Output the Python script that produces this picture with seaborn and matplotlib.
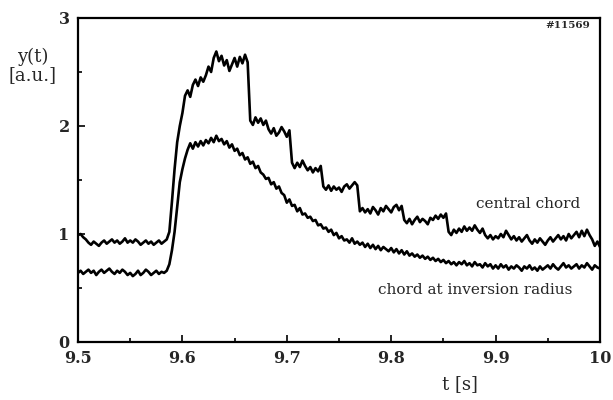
import numpy as np
import pandas as pd
import matplotlib
matplotlib.use("Agg")
import matplotlib.pyplot as plt
from matplotlib.ticker import MultipleLocator
import seaborn as sns

# sampling grid of the traces (s)
t_start = 9.5
t_step = 0.0025

central_chord = [
    0.99, 1.00, 0.97, 0.95, 0.92, 0.90, 0.93, 0.91, 0.89, 0.92,
    0.94, 0.91, 0.93, 0.95, 0.92, 0.94, 0.91, 0.93, 0.96, 0.92,
    0.94, 0.92, 0.95, 0.93, 0.90, 0.92, 0.94, 0.91, 0.93, 0.90,
    0.92, 0.94, 0.91, 0.93, 0.95, 1.02, 1.30, 1.60, 1.85, 2.00,
    2.12, 2.28, 2.33, 2.27, 2.38, 2.43, 2.37, 2.45, 2.41, 2.47,
    2.55, 2.50, 2.63, 2.69, 2.60, 2.65, 2.56, 2.61, 2.51, 2.57,
    2.63, 2.55, 2.64, 2.58, 2.66, 2.59, 2.05, 2.01, 2.08, 2.03,
    2.07, 2.01, 2.05, 1.97, 1.93, 1.98, 1.91, 1.94, 1.99, 1.95,
    1.90, 1.96, 1.66, 1.61, 1.66, 1.62, 1.68, 1.63, 1.59, 1.62,
    1.57, 1.61, 1.58, 1.63, 1.44, 1.41, 1.45, 1.40, 1.44, 1.41,
    1.43, 1.39, 1.44, 1.46, 1.42, 1.45, 1.48, 1.45, 1.21, 1.24,
    1.20, 1.23, 1.19, 1.25, 1.22, 1.18, 1.24, 1.21, 1.26, 1.23,
    1.20, 1.25, 1.27, 1.22, 1.26, 1.13, 1.10, 1.14, 1.09, 1.13,
    1.16, 1.11, 1.14, 1.12, 1.09, 1.15, 1.13, 1.17, 1.14, 1.18,
    1.15, 1.19, 1.02, 0.99, 1.04, 1.01, 1.05, 1.02, 1.07, 1.03,
    1.06, 1.03, 1.08, 1.04, 1.01, 1.05, 0.99, 0.96, 0.99, 0.95,
    0.98, 0.96, 1.00, 0.97, 1.03, 0.99, 0.95, 0.98, 0.94, 0.97,
    0.93, 0.96, 0.99, 0.94, 0.91, 0.95, 0.92, 0.96, 0.93, 0.90,
    0.94, 0.97, 0.93, 0.96, 0.99, 0.95, 0.98, 0.94, 1.00, 0.96,
    0.99, 1.02, 0.97, 1.03, 0.98, 1.04, 0.99, 0.95, 0.89, 0.93,
    0.88,
]

inversion_radius = [
    0.64, 0.66, 0.63, 0.65, 0.67, 0.64, 0.66, 0.62, 0.65, 0.67,
    0.64, 0.66, 0.68, 0.65, 0.63, 0.66, 0.64, 0.67, 0.65, 0.62,
    0.64, 0.61, 0.63, 0.66, 0.62, 0.64, 0.67, 0.65, 0.62, 0.64,
    0.66, 0.63, 0.65, 0.64, 0.66, 0.72, 0.85, 1.02, 1.25, 1.48,
    1.60, 1.70, 1.78, 1.84, 1.79, 1.85, 1.81, 1.86, 1.82, 1.87,
    1.84, 1.89, 1.85, 1.91, 1.86, 1.88, 1.83, 1.86, 1.80, 1.83,
    1.77, 1.79, 1.73, 1.75, 1.69, 1.71, 1.65, 1.67, 1.61, 1.63,
    1.57, 1.55, 1.51, 1.52, 1.46, 1.48, 1.42, 1.44, 1.38, 1.36,
    1.29, 1.32, 1.26, 1.27, 1.21, 1.24, 1.18, 1.19, 1.15, 1.16,
    1.12, 1.13, 1.08, 1.09, 1.05, 1.06, 1.02, 1.04, 0.99, 1.01,
    0.96, 0.98, 0.94, 0.95, 0.92, 0.96, 0.91, 0.93, 0.90, 0.92,
    0.88, 0.91, 0.87, 0.90, 0.86, 0.89, 0.85, 0.88, 0.86, 0.84,
    0.87, 0.83, 0.86, 0.82, 0.85, 0.81, 0.84, 0.80, 0.82, 0.79,
    0.81, 0.78, 0.80, 0.77, 0.79, 0.76, 0.78, 0.75, 0.77, 0.74,
    0.76, 0.73, 0.75, 0.72, 0.74, 0.71, 0.74, 0.72, 0.75, 0.71,
    0.73, 0.70, 0.74, 0.71, 0.72, 0.69, 0.73, 0.70, 0.72, 0.68,
    0.71, 0.68, 0.72, 0.69, 0.71, 0.67, 0.70, 0.68, 0.71, 0.69,
    0.66, 0.70, 0.68, 0.71, 0.67, 0.69, 0.66, 0.70, 0.67, 0.69,
    0.71, 0.68, 0.72, 0.69, 0.67, 0.70, 0.73, 0.69, 0.71, 0.68,
    0.70, 0.72, 0.68, 0.71, 0.69, 0.73, 0.70, 0.67, 0.71, 0.69,
    0.68,
]

x_ticks = [9.5, 9.6, 9.7, 9.8, 9.9, 10.0]
x_tick_labels = ["9.5", "9.6", "9.7", "9.8", "9.9", "10"]
y_ticks = [0, 1, 2, 3]
y_tick_labels = ["0", "1", "2", "3"]

t = t_start + t_step * np.arange(len(central_chord))
df = pd.DataFrame({
    "t": np.concatenate([t, t]),
    "y": central_chord + inversion_radius,
    "trace": ["central chord"] * len(t) + ["chord at inversion radius"] * len(t),
})

sns.set_theme(style="white")
plt.rcParams["font.family"] = ["DejaVu Serif"]

fig = plt.figure(figsize=(6.13, 4.0), dpi=100)
ax = fig.add_axes([78 / 613, 1 - 342 / 400, (600 - 78) / 613, (342 - 18) / 400])

sns.lineplot(data=df, x="t", y="y", units="trace", estimator=None,
             color="black", linewidth=1.9, ax=ax, legend=False)

ax.set_xlim(9.5, 10.0)
ax.set_ylim(0, 3)
ax.set_xticks(x_ticks)
ax.set_xticklabels(x_tick_labels)
ax.set_yticks(y_ticks)
ax.set_yticklabels(y_tick_labels)
ax.xaxis.set_minor_locator(MultipleLocator(0.05))
ax.yaxis.set_minor_locator(MultipleLocator(0.5))
ax.tick_params(which="both", direction="in", color="black", width=1.2,
               bottom=True, left=True, top=False, right=False)
ax.tick_params(which="major", length=5, labelsize=11.5, pad=6)
ax.tick_params(which="minor", length=3)
for lab in ax.get_xticklabels() + ax.get_yticklabels():
    lab.set_fontweight("bold")
for s in ax.spines.values():
    s.set_color("black")
    s.set_linewidth(1.6)
ax.set_xlabel("")
ax.set_ylabel("")

fig.text(33 / 613, 1 - 66 / 400, "y(t)\n[a.u.]", ha="center", va="center",
         fontsize=13, linespacing=1.0)
fig.text(460 / 613, 1 - 384 / 400, "t [s]", ha="center", va="center", fontsize=13)

ax.text(9.931, 1.28, "central chord", ha="center", va="center", fontsize=11)
ax.text(9.880, 0.48, "chord at inversion radius", ha="center", va="center", fontsize=11)
ax.text(9.99, 2.93, "#11569", ha="right", va="center", fontsize=7.5, fontweight="bold")

fig.savefig("out.png", dpi=100, facecolor="white")
